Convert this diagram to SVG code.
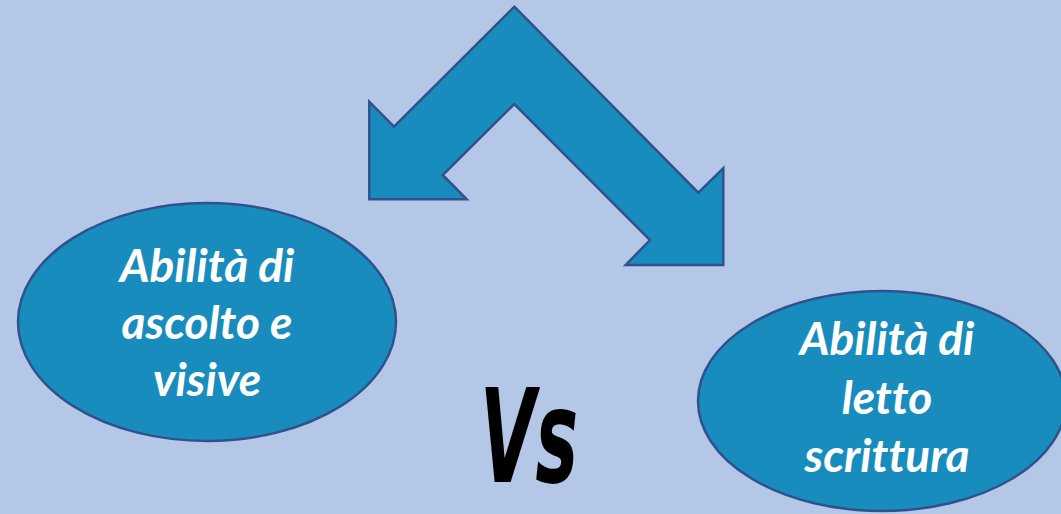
<svg xmlns="http://www.w3.org/2000/svg" width="1061" height="514" viewBox="0 0 1061 514">
<style>
.shape{fill:#188DBD;stroke:#2F528F;stroke-width:2.5}
.lbl{font-family:Lato,"Open Sans","Liberation Sans",sans-serif;font-weight:bold;font-style:italic;font-size:46px;fill:#FFFFFF;text-anchor:middle;font-variant-ligatures:none}
.vs{font-family:"DejaVu Sans","Liberation Sans",sans-serif;font-weight:bold;font-style:italic;font-size:130px;fill:#000000}
</style>
<rect width="1061" height="514" fill="#B4C7E7"/>
<g id="connectors">
<polygon class="shape" points="514.3,6.7 698.3,192.7 723.3,168.3 723.3,265 625.7,265 650,240 514.3,104 442.7,175 466.7,199.3 369.3,199.3 369.3,101.7 394,126.7"/>
</g>
<g id="node-left">
<ellipse class="shape" cx="207" cy="322" rx="189" ry="119"/>
<text class="lbl" x="207" y="282">Abilità di</text>
<text class="lbl" x="207" y="339">ascolto e</text>
<text class="lbl" x="207" y="396">visive</text>
</g>
<g id="node-right">
<ellipse class="shape" cx="882" cy="401" rx="184" ry="110"/>
<text class="lbl" x="887" y="355">Abilità di</text>
<text class="lbl" x="887" y="414">letto</text>
<text class="lbl" x="887" y="472">scrittura</text>
</g>
<g id="vs">
<text class="vs" x="480" y="482" textLength="98" lengthAdjust="spacingAndGlyphs">Vs</text>
</g>
</svg>
